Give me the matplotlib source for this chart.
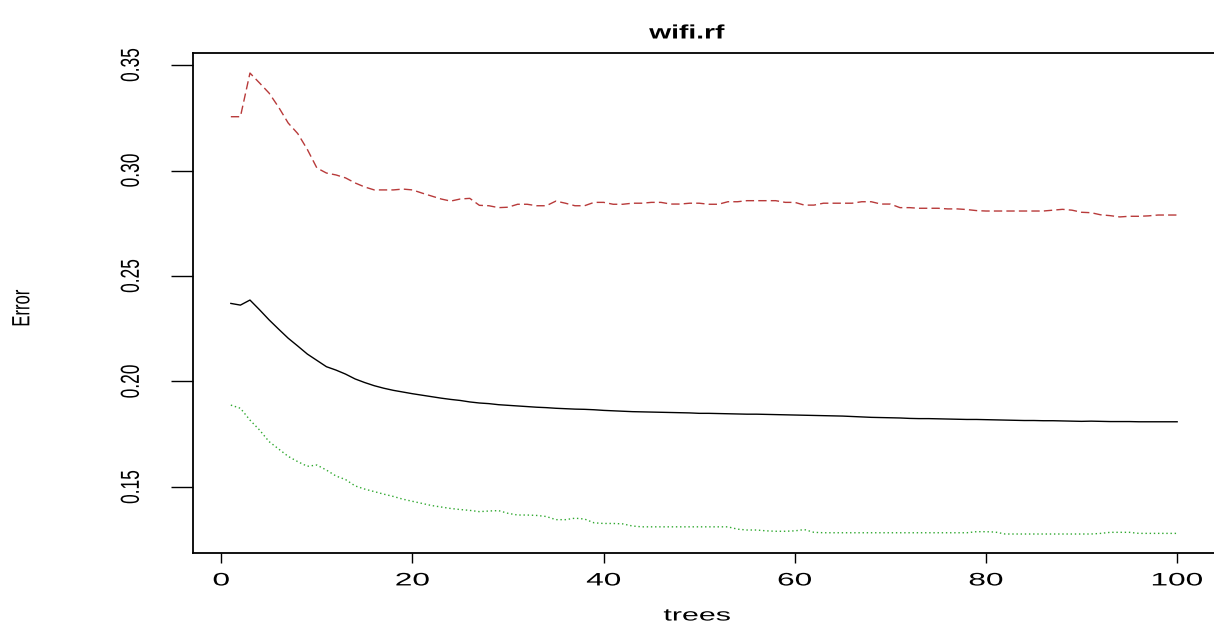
import numpy as np
import matplotlib
matplotlib.use("Agg")
import matplotlib.pyplot as plt
from matplotlib.patheffects import AbstractPathEffect
from matplotlib.transforms import Affine2D

plt.rcParams['font.family'] = ['Liberation Sans', 'DejaVu Sans']

trees = np.arange(1, 101)

oob_error = [
    0.2370, 0.2362, 0.2386, 0.2340, 0.2292, 0.2248, 0.2205, 0.2168, 0.2130, 0.2100,
    0.2070, 0.2054, 0.2035, 0.2012, 0.1995, 0.1980, 0.1968, 0.1958, 0.1950, 0.1942,
    0.1935, 0.1928, 0.1921, 0.1915, 0.1910, 0.1903, 0.1898, 0.1895, 0.1890, 0.1887,
    0.1884, 0.1881, 0.1878, 0.1876, 0.1873, 0.1871, 0.1869, 0.1868, 0.1866, 0.1863,
    0.1861, 0.1859, 0.1857, 0.1856, 0.1855, 0.1854, 0.1853, 0.1852, 0.1851, 0.1849,
    0.1849, 0.1848, 0.1847, 0.1846, 0.1845, 0.1845, 0.1844, 0.1843, 0.1842, 0.1841,
    0.1840, 0.1839, 0.1838, 0.1837, 0.1836, 0.1834, 0.1832, 0.1830, 0.1829, 0.1828,
    0.1827, 0.1825, 0.1824, 0.1824, 0.1823, 0.1822, 0.1821, 0.1820, 0.1820, 0.1819,
    0.1818, 0.1817, 0.1816, 0.1815, 0.1815, 0.1814, 0.1814, 0.1813, 0.1812, 0.1811,
    0.1812, 0.1811, 0.1810, 0.1810, 0.1810, 0.1809, 0.1809, 0.1809, 0.1809, 0.1809,
]

class1_error = [
    0.3255, 0.3255, 0.3462, 0.3415, 0.3367, 0.3300, 0.3225, 0.3175, 0.3100, 0.3012,
    0.2988, 0.2979, 0.2965, 0.2941, 0.2922, 0.2908, 0.2908, 0.2908, 0.2912, 0.2908,
    0.2893, 0.2879, 0.2865, 0.2855, 0.2865, 0.2868, 0.2835, 0.2833, 0.2824, 0.2826,
    0.2840, 0.2840, 0.2833, 0.2833, 0.2855, 0.2845, 0.2833, 0.2833, 0.2849, 0.2849,
    0.2840, 0.2840, 0.2845, 0.2845, 0.2849, 0.2849, 0.2841, 0.2841, 0.2845, 0.2845,
    0.2840, 0.2840, 0.2852, 0.2852, 0.2857, 0.2857, 0.2857, 0.2857, 0.2849, 0.2849,
    0.2836, 0.2836, 0.2845, 0.2845, 0.2845, 0.2845, 0.2852, 0.2852, 0.2841, 0.2841,
    0.2824, 0.2824, 0.2821, 0.2821, 0.2821, 0.2818, 0.2818, 0.2815, 0.2810, 0.2808,
    0.2808, 0.2808, 0.2808, 0.2808, 0.2808, 0.2808, 0.2812, 0.2816, 0.2812, 0.2802,
    0.2800, 0.2790, 0.2786, 0.2780, 0.2783, 0.2783, 0.2785, 0.2789, 0.2789, 0.2789,
]

class2_error = [
    0.1888, 0.1873, 0.1817, 0.1770, 0.1715, 0.1680, 0.1645, 0.1620, 0.1598, 0.1604,
    0.1580, 0.1552, 0.1535, 0.1505, 0.1490, 0.1478, 0.1466, 0.1455, 0.1442, 0.1432,
    0.1422, 0.1412, 0.1405, 0.1398, 0.1393, 0.1389, 0.1383, 0.1386, 0.1388, 0.1375,
    0.1367, 0.1367, 0.1365, 0.1360, 0.1345, 0.1345, 0.1352, 0.1348, 0.1330, 0.1327,
    0.1327, 0.1325, 0.1315, 0.1311, 0.1311, 0.1311, 0.1311, 0.1311, 0.1311, 0.1311,
    0.1311, 0.1311, 0.1311, 0.1300, 0.1296, 0.1296, 0.1292, 0.1290, 0.1290, 0.1292,
    0.1298, 0.1285, 0.1283, 0.1283, 0.1283, 0.1283, 0.1283, 0.1283, 0.1283, 0.1283,
    0.1283, 0.1283, 0.1283, 0.1283, 0.1283, 0.1283, 0.1283, 0.1283, 0.1288, 0.1288,
    0.1286, 0.1277, 0.1277, 0.1277, 0.1277, 0.1277, 0.1277, 0.1277, 0.1277, 0.1277,
    0.1277, 0.1280, 0.1285, 0.1285, 0.1285, 0.1280, 0.1280, 0.1280, 0.1280, 0.1280,
]

xticks = [0, 20, 40, 60, 80, 100]
yticks = [0.15, 0.20, 0.25, 0.30, 0.35]
ytick_labels = ["0.15", "0.20", "0.25", "0.30", "0.35"]


class HStretch(AbstractPathEffect):
    """Draw text stretched horizontally around its own centre (the reference
    image is horizontally stretched)."""

    def __init__(self, sx):
        super().__init__()
        self.sx = sx

    def draw_path(self, renderer, gc, tpath, affine, rgbFace=None):
        ext = tpath.get_extents(affine)
        cx = 0.5 * (ext.x0 + ext.x1)
        t = affine + Affine2D().translate(-cx, 0).scale(self.sx, 1.0).translate(cx, 0)
        renderer.draw_path(gc, tpath, t, rgbFace)


W, H = 1214, 627
fig = plt.figure(figsize=(W / 100, H / 100), dpi=100)
ax = fig.add_axes([193 / W, 74 / H, 1022 / W, 500 / H])

ax.plot(trees, oob_error, color='black', lw=1.0, ls='-')
ax.plot(trees, class1_error, color='#B83A3A', lw=1.0, ls=(0, (6, 3)))
ax.plot(trees, class2_error, color='#2FA82F', lw=1.0, ls=(0, (1, 2)))

ax.set_xlim(-2.96, 103.96)
ax.set_ylim(0.1187, 0.3557)

ax.set_xticks(xticks)
ax.set_xticklabels([str(v) for v in xticks], fontsize=13,
                   path_effects=[HStretch(1.75)])
ax.set_yticks(yticks)
ax.set_yticklabels(ytick_labels, fontsize=12.5, rotation=90, va='center',
                   path_effects=[HStretch(1.5)])

ax.tick_params(axis='x', length=7, width=1.0, pad=7, direction='out')
ax.tick_params(axis='y', length=16, width=1.0, pad=23, direction='out')

for s in ax.spines.values():
    s.set_linewidth(1.3)
    s.set_color('black')

fig.text(687 / W, 1 - 34 / H, "wifi.rf", ha='center', va='center',
         fontsize=14, fontweight='bold', path_effects=[HStretch(1.45)])
fig.text(697 / W, 1 - 616 / H, "trees", ha='center', va='center', fontsize=12.5,
         path_effects=[HStretch(1.75)])
fig.text(22 / W, 1 - 308 / H, "Error", ha='center', va='center', fontsize=12,
         rotation=90, path_effects=[HStretch(1.5)])

fig.savefig("out.png", dpi=100)
